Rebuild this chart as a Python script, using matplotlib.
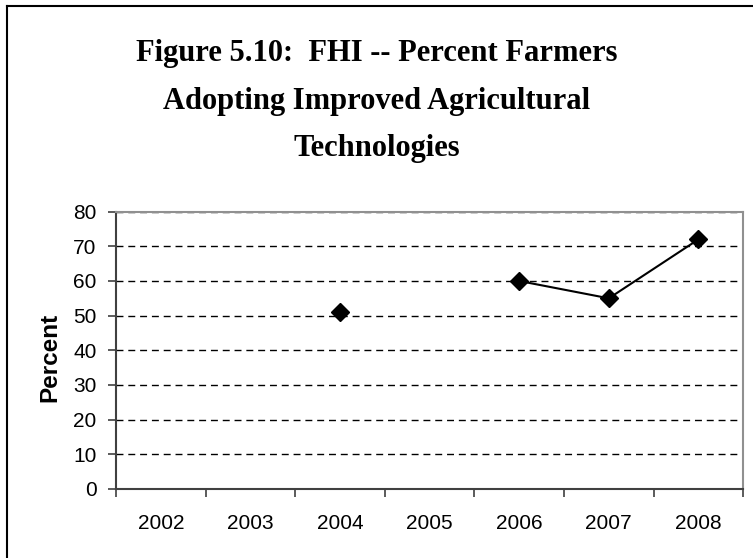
import matplotlib
matplotlib.use('Agg')
import matplotlib.pyplot as plt
from matplotlib.lines import Line2D
import numpy as np

# Percent of farmers adopting improved agricultural technologies (FHI)
years = ['2002', '2003', '2004', '2005', '2006', '2007', '2008']
percent = [np.nan, np.nan, 51, np.nan, 60, 55, 72]

fig = plt.figure(figsize=(7.53, 5.58), dpi=100)
ax = fig.add_axes([0.154, 0.1237, 0.833, 0.497])

x = np.arange(len(years))
ax.plot(x, percent, color='black', lw=1.5, marker='D', markersize=9,
        markerfacecolor='black', markeredgecolor='black')

ax.set_xlim(-0.5, len(years) - 0.5)
ax.set_ylim(0, 80)
ax.set_yticks(np.arange(0, 81, 10))
ax.set_xticks(x)
ax.set_xticklabels(years)
ax.set_xticks(np.arange(-0.5, len(years), 1), minor=True)

ax.tick_params(axis='x', which='major', length=0, pad=18, labelsize=15)
ax.tick_params(axis='x', which='minor', length=6, width=1.2, color='#404040')
ax.tick_params(axis='y', length=6, width=1.2, color='#404040', pad=8, labelsize=15)
for lab in ax.get_xticklabels() + ax.get_yticklabels():
    lab.set_family(['Liberation Sans', 'DejaVu Sans'])

ax.yaxis.grid(True, color='black', lw=1, dashes=(5, 3.5))
ax.set_axisbelow(True)

for side in ['left', 'bottom']:
    ax.spines[side].set_color('#404040')
    ax.spines[side].set_linewidth(1.5)
for side in ['top', 'right']:
    ax.spines[side].set_color('#909090')
    ax.spines[side].set_linewidth(1.5)

ax.set_ylabel('Percent', fontsize=17.5, fontweight='bold',
              family=['Liberation Sans', 'DejaVu Sans'])
ax.yaxis.set_label_coords(-0.087, 0.475)

fig.text(0.5, 1 - 101 / 558, 'Figure 5.10:  FHI -- Percent Farmers\nAdopting Improved Agricultural\nTechnologies',
         ha='center', va='center', fontsize=22, fontweight='bold',
         family=['Liberation Serif', 'DejaVu Serif'], linespacing=1.85)

# chart frame (left and top edges)
fig.add_artist(Line2D([7 / 753, 7 / 753], [0, 1 - 6 / 558], transform=fig.transFigure,
                      color='black', lw=1.5))
fig.add_artist(Line2D([7 / 753, 1], [1 - 6 / 558, 1 - 6 / 558], transform=fig.transFigure,
                      color='black', lw=1.5))

fig.savefig('out.png', dpi=100)
